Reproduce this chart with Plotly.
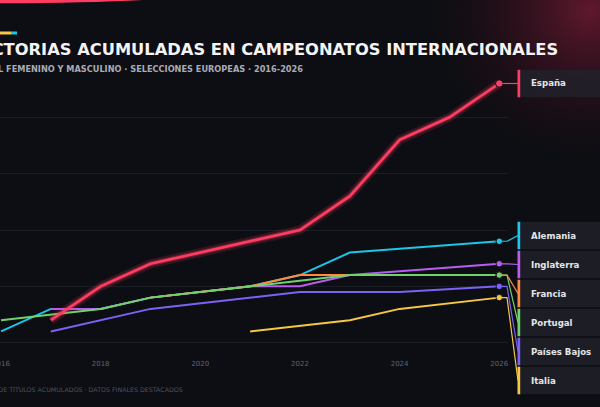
import base64
import plotly.graph_objects as go

# data (cumulative titles per season)
years = [2016, 2017, 2018, 2019, 2020, 2021, 2022, 2023, 2024, 2025, 2026]

espana = [None, 2, 5, 7, 8, 9, 10, 13, 18, 20, 23]
alemania = [1, 3, 3, 4, None, 5, 6, 8, None, None, 9]
inglaterra = [None, 3, 3, 4, None, 5, 5, 6, None, None, 7]
francia = [None, None, None, 4, None, 5, 6, 6, 6, 6, 6]
portugal = [2, None, 3, 4, None, 5, None, 6, 6, 6, 6]
paises_bajos = [None, 1, None, 3, None, None, 4.5, None, 4.5, None, 5]
italia = [None, None, None, None, None, 1, None, 2, 3, None, 4]

teams = ["España", "Alemania", "Inglaterra", "Francia", "Portugal", "Países Bajos", "Italia"]
series = [espana, alemania, inglaterra, francia, portugal, paises_bajos, italia]
colors = ["#ff3d63", "#1cc6e8", "#b95cf2", "#ff8a3d", "#6fd26a", "#7b62f5", "#f6c744"]

x_ticks = [2016, 2018, 2020, 2022, 2024, 2026]

title = "VICTORIAS ACUMULADAS EN CAMPEONATOS INTERNACIONALES"
subtitle = "FÚTBOL FEMENINO Y MASCULINO · SELECCIONES EUROPEAS · 2016-2026"
footnote = "SUMA DE TÍTULOS ACUMULADOS · DATOS FINALES DESTACADOS"

# page geometry (pixels)
W, H = 600, 407
ML, MR, MT, MB = 0, 92, 80, 57
PW, PH = W - ML - MR, H - MT - MB
X0, X1 = 2015.98, 2026.175
Y0, Y1 = -0.648, 23.31

BG = "#0d0e13"
FONT = "DejaVu Sans"


def px_x(p):
    return (p - ML) / PW


def px_y(p):
    return (H - MB - p) / PH


def data_px(yr):
    return ML + (yr - X0) / (X1 - X0) * PW


def data_py(v):
    return MT + (Y1 - v) / (Y1 - Y0) * PH


def last_point(vals):
    for yr, v in zip(reversed(years), reversed(vals)):
        if v is not None:
            return yr, v


fig = go.Figure()

# other countries first, España on top with a glow
for name, vals, col in list(zip(teams, series, colors))[1:]:
    fig.add_trace(go.Scatter(x=years, y=vals, mode="lines", connectgaps=True,
                             line=dict(color=col, width=2), hoverinfo="skip"))

fig.add_trace(go.Scatter(x=years, y=espana, mode="lines", connectgaps=True,
                         line=dict(color="rgba(255,61,99,0.16)", width=9), hoverinfo="skip"))
fig.add_trace(go.Scatter(x=years, y=espana, mode="lines", connectgaps=True,
                         line=dict(color="rgba(255,61,99,0.3)", width=5), hoverinfo="skip"))
fig.add_trace(go.Scatter(x=years, y=espana, mode="lines", connectgaps=True,
                         line=dict(color=colors[0], width=2.6), hoverinfo="skip"))

# end markers
for name, vals, col in list(zip(teams, series, colors))[1:] + [(teams[0], espana, colors[0])]:
    yr, v = last_point(vals)
    fig.add_trace(go.Scatter(x=[yr], y=[v], mode="markers", cliponaxis=False,
                             marker=dict(color=col, size=7.5 if name == "España" else 6.5,
                                         line=dict(color=BG, width=1)),
                             hoverinfo="skip"))

# label boxes on the right, pushed apart so they don't overlap
PITCH, BOX_H, BOTTOM = 29, 27.5, 380.5
ends = [last_point(s) for s in series]
pos = []
for yr, v in ends:
    t = data_py(v)
    pos.append(t if not pos else max(t, pos[-1] + PITCH))
pos[-1] = min(pos[-1], BOTTOM)
for i in range(len(pos) - 2, -1, -1):
    pos[i] = min(pos[i], pos[i + 1] - PITCH)

shapes = []
annotations = []
for (yr, v), c, name, col in zip(ends, pos, teams, colors):
    shapes.append(dict(type="rect", xref="paper", yref="paper", layer="above",
                       x0=px_x(520), x1=px_x(650), y0=px_y(c + BOX_H / 2), y1=px_y(c - BOX_H / 2),
                       fillcolor="rgba(33,34,43,0.8)", line=dict(width=0)))
    shapes.append(dict(type="rect", xref="paper", yref="paper", layer="above",
                       x0=px_x(517.5), x1=px_x(520.2), y0=px_y(c + BOX_H / 2), y1=px_y(c - BOX_H / 2),
                       fillcolor=col, line=dict(width=0)))
    mx, my = data_px(yr), data_py(v)
    path = "M %f %f L %f %f L %f %f" % (px_x(mx), px_y(my), px_x(507), px_y(my), px_x(518), px_y(c))
    shapes.append(dict(type="path", xref="paper", yref="paper", layer="above", path=path,
                       line=dict(color=col, width=1.2)))
    annotations.append(dict(xref="paper", yref="paper", x=px_x(529), y=px_y(c), text=name,
                            showarrow=False, xanchor="left", yanchor="middle",
                            font=dict(family=FONT, size=8.6, color="#e4e5ea", weight=700)))
    annotations.append(dict(xref="paper", yref="paper", x=px_x(616), y=px_y(c), text="%g" % v,
                            showarrow=False, xanchor="right", yanchor="middle",
                            font=dict(family=FONT, size=10, color="#f2f2f5", weight=700)))

# decorations: pink sliver at top left, small accent bar
shapes.append(dict(type="path", xref="paper", yref="paper", layer="above",
                   path="M %f %f L %f %f Q %f %f %f %f Z" % (px_x(-5), px_y(-2), px_x(172), px_y(-2),
                                                             px_x(110), px_y(3.2), px_x(-5), px_y(3.2)),
                   fillcolor="#ff3d63", line=dict(width=0)))
shapes.append(dict(type="line", xref="paper", yref="paper", layer="above",
                   x0=px_x(-19), x1=px_x(11), y0=px_y(33), y1=px_y(33),
                   line=dict(color="#f6c744", width=3)))
shapes.append(dict(type="line", xref="paper", yref="paper", layer="above",
                   x0=px_x(11), x1=px_x(17), y0=px_y(33), y1=px_y(33),
                   line=dict(color="#1cc6e8", width=3)))

# header / footer texts run off the left edge, so anchor them on their right end
annotations.append(dict(xref="paper", yref="paper", x=px_x(560), y=px_y(50), text=title,
                        showarrow=False, xanchor="right", yanchor="middle",
                        font=dict(family=FONT, size=16.3, color="#f4f4f6", weight=700)))
annotations.append(dict(xref="paper", yref="paper", x=px_x(305), y=px_y(68.5), text=subtitle,
                        showarrow=False, xanchor="right", yanchor="middle",
                        font=dict(family=FONT, size=8.2, color="#a9acb6", weight=700)))
annotations.append(dict(xref="paper", yref="paper", x=px_x(185), y=px_y(389), text=footnote,
                        showarrow=False, xanchor="right", yanchor="middle",
                        font=dict(family=FONT, size=6.3, color="#4e525d")))

# reddish glow in the top right corner
glow_svg = ("<svg xmlns='http://www.w3.org/2000/svg' width='200' height='200'>"
            "<defs><radialGradient id='g' cx='0.5' cy='0.5' r='0.5'>"
            "<stop offset='0' stop-color='#6e1a31' stop-opacity='0.85'/>"
            "<stop offset='0.5' stop-color='#4a1224' stop-opacity='0.45'/>"
            "<stop offset='1' stop-color='#2a0c16' stop-opacity='0'/>"
            "</radialGradient></defs><rect width='200' height='200' fill='url(#g)'/></svg>")
glow_src = "data:image/svg+xml;base64," + base64.b64encode(glow_svg.encode()).decode()

fig.update_layout(
    width=W, height=H,
    margin=dict(l=ML, r=MR, t=MT, b=MB, pad=0),
    paper_bgcolor=BG, plot_bgcolor="rgba(0,0,0,0)",
    showlegend=False, hovermode=False,
    shapes=shapes, annotations=annotations,
    images=[dict(source=glow_src, xref="paper", yref="paper",
                 x=px_x(430), y=px_y(-140), sizex=320 / PW, sizey=300 / PH,
                 xanchor="left", yanchor="top", sizing="stretch", layer="below")],
    xaxis=dict(range=[X0, X1], tickvals=x_ticks, ticktext=[str(t) for t in x_ticks],
               showgrid=False, zeroline=False, showline=False, ticks="", automargin=False,
               ticklabeloverflow="allow", ticklabelstandoff=8,
               tickfont=dict(family=FONT, size=7, color="#60646f")),
    yaxis=dict(range=[Y0, Y1], tick0=0, dtick=5, showticklabels=False, automargin=False,
               gridcolor="#1b1d25", gridwidth=1, zeroline=False, showline=False, ticks=""),
)

# the page should start at the very corner, like the reference
fig.write_html("out.html", config={"displayModeBar": False},
               post_script="document.body.style.margin='0';document.body.style.overflow='hidden';")
